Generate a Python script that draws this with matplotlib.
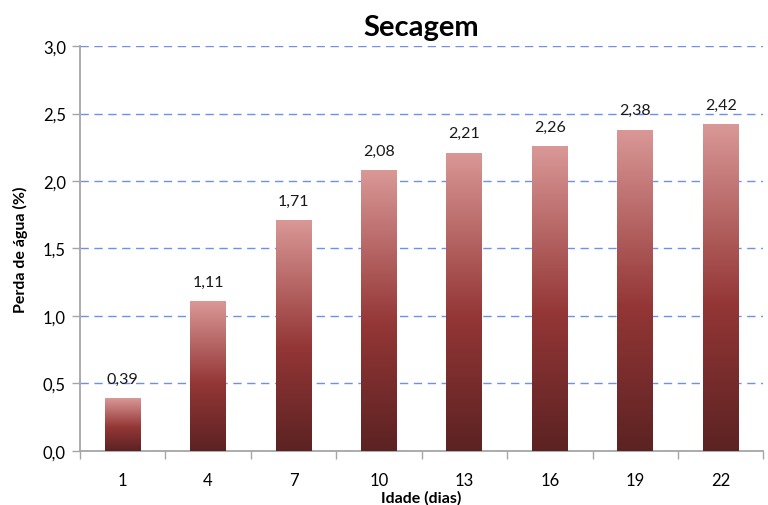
import numpy as np
import matplotlib.pyplot as plt
from matplotlib.colors import LinearSegmentedColormap
from matplotlib.patches import Rectangle

plt.rcParams['font.family'] = ['Lato', 'DejaVu Sans']

# dados
idade = ["1", "4", "7", "10", "13", "16", "19", "22"]
perda = [0.39, 1.11, 1.71, 2.08, 2.21, 2.26, 2.38, 2.42]

fig = plt.figure(figsize=(7.68, 5.06), dpi=100)
ax = fig.add_axes([0.104, 0.107, 0.89, 0.800])

# gradiente vermelho escuro -> vermelho -> rosa
cmap = LinearSegmentedColormap.from_list(
    "grad", [(0, "#5c2222"), (0.45, "#943636"), (1, "#d99896")])
grad = np.linspace(0, 1, 256).reshape(-1, 1)

x = np.arange(len(idade))
largura = 0.42
barras = ax.bar(x, perda, width=largura, color="none", zorder=3)
for b in barras:
    x0, y0 = b.get_x(), b.get_y()
    w, h = b.get_width(), b.get_height()
    im = ax.imshow(grad, cmap=cmap, origin="lower", aspect="auto",
                   extent=[x0, x0 + w, y0, y0 + h], zorder=3)
    clip = Rectangle((x0, y0), w, h, transform=ax.transData)
    im.set_clip_path(clip)

# rotulos de dados
for xi, v in zip(x, perda):
    ax.annotate(f"{v:.2f}".replace(".", ","), (xi, v), xytext=(0, 9),
                textcoords="offset points", ha="center", va="bottom",
                fontsize=11.5, color="#1a1a1a")

ax.set_xlim(-0.5, len(idade) - 0.5)
ax.set_ylim(0, 3.0)
ax.set_yticks(np.arange(0, 3.01, 0.5))
ax.set_yticklabels([f"{t:.1f}".replace(".", ",") for t in np.arange(0, 3.01, 0.5)])
ax.set_xticks(x)
ax.set_xticklabels(idade)
ax.set_xticks(np.arange(-0.5, len(idade), 1), minor=True)
ax.tick_params(axis="x", which="major", length=0, pad=15, labelsize=12)
ax.tick_params(axis="x", which="minor", length=6, color="#a6a6a6", width=1)
ax.tick_params(axis="y", length=6, color="#a6a6a6", width=1, labelsize=12, pad=4)

ax.yaxis.grid(True, color="#6f8ff0", linestyle=(0, (6, 4)), linewidth=1)
ax.set_axisbelow(True)

for s in ["top", "right"]:
    ax.spines[s].set_visible(False)
for s in ["left", "bottom"]:
    ax.spines[s].set_color("#a6a6a6")
    ax.spines[s].set_linewidth(1.3)

ax.set_title("Secagem", fontsize=21, fontweight="bold", pad=8)
ax.set_xlabel("Idade (dias)", fontsize=11.5, fontweight="bold", labelpad=2)
ax.set_ylabel("Perda de água (%)", fontsize=11.5, fontweight="bold", labelpad=11)

fig.savefig("out.png", dpi=100)
